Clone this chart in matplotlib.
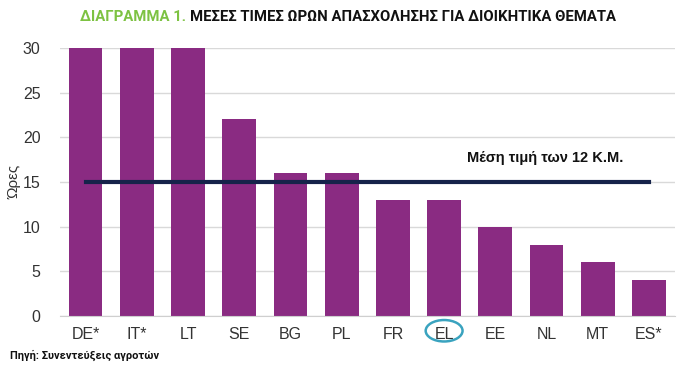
import matplotlib
matplotlib.use("Agg")
import matplotlib.pyplot as plt
from matplotlib.patches import Ellipse

categories = ["DE*", "IT*", "LT", "SE", "BG", "PL", "FR", "EL", "EE", "NL", "MT", "ES*"]
hours = [30, 30, 30, 22, 16, 16, 13, 13, 10, 8, 6, 4]
mean_value = 15
mean_label = "Μέση τιμή των 12 Κ.Μ."
yticks = [0, 5, 10, 15, 20, 25, 30]
title_green = "ΔΙΑΓΡΑΜΜΑ 1."
title_black = "ΜΕΣΕΣ ΤΙΜΕΣ ΩΡΩΝ ΑΠΑΣΧΟΛΗΣΗΣ ΓΙΑ ΔΙΟΙΚΗΤΙΚΑ ΘΕΜΑΤΑ"
source = "Πηγή: Συνεντεύξεις αγροτών"

plt.rcParams['font.family'] = ['Liberation Sans', 'DejaVu Sans']
cond = ['Roboto', 'DejaVu Sans']

fig = plt.figure(figsize=(7, 3.72), dpi=100)
ax = fig.add_axes([0.0857, 0.1505, 0.878, 0.7205])

x = list(range(len(categories)))
ax.bar(x, hours, width=0.66, color="#8a2b82", zorder=2)
ax.plot([0, len(categories) - 1], [mean_value, mean_value], color="#16234a", lw=3, zorder=3)
ax.text(8.97, 17.7, mean_label, ha="center", va="center", fontsize=10.5,
        fontweight="bold", color="#111111", zorder=4)

ax.set_xlim(-0.5, 11.5)
ax.set_ylim(0, 30)
ax.set_yticks(yticks)
ax.set_xticks(x)
ax.set_xticklabels(categories)
ax.tick_params(axis="both", length=0, labelsize=11.5, colors="#333333")
ax.tick_params(axis="x", pad=8)
ax.tick_params(axis="y", pad=14)
ax.yaxis.grid(True, color="#d9d9d9", lw=1, zorder=0)
for s in ["top", "right", "left"]:
    ax.spines[s].set_visible(False)
ax.spines["bottom"].set_color("#cfcfcf")
ax.set_ylabel("Ώρες", fontsize=11, color="#333333", labelpad=1)

idx = categories.index("EL")
trans = ax.get_xaxis_transform()
ax.add_patch(Ellipse((idx, -0.055), 0.72, 0.08, transform=trans, fill=False,
                     edgecolor="#3aa3bf", lw=1.8, clip_on=False))

W = fig.bbox.width

def fit(t, target_px, start):
    fig.canvas.draw()
    w = t.get_window_extent().width
    t.set_fontsize(start * target_px / w)
    fig.canvas.draw()
    return t.get_window_extent()

# title: fit total width 80..615 px
t1 = fig.text(80 / W, 0.955, title_green + " ", fontsize=12, fontweight="bold",
              color="#7dc242", family=cond, va="center")
t2 = fig.text(0.5, 0.955, title_black, fontsize=12, fontweight="bold",
              color="#111111", family=cond, va="center")
fig.canvas.draw()
w1 = t1.get_window_extent().width
w2 = t2.get_window_extent().width
scale = 535 / (w1 + w2)
t1.set_fontsize(12 * scale)
t2.set_fontsize(12 * scale)
fig.canvas.draw()
bb = t1.get_window_extent()
t2.set_x(bb.x1 / W)

s = fig.text(10 / W, 0.045, source, fontsize=9.5, fontweight="bold", color="#111111",
             family=cond, va="center")
fit(s, 150, 9.5)

fig.savefig("out.png", dpi=100)
